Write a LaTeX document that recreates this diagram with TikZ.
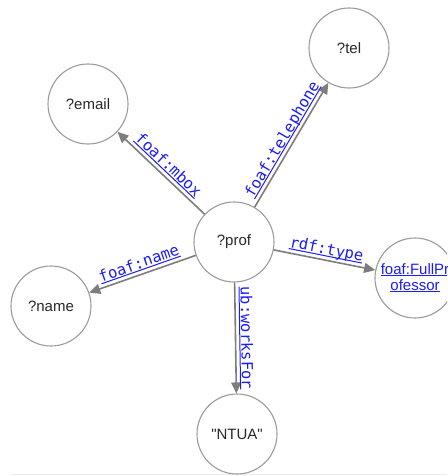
\documentclass[tikz,border=0pt]{standalone}
\usepackage{fontspec}
\setmainfont{Liberation Sans}[Ligatures=TeXOff]
\newfontfamily\monofont{DejaVu Sans Mono}
\usetikzlibrary{arrows.meta}
\definecolor{linkblue}{RGB}{28,28,245}
\definecolor{edgegray}{RGB}{125,125,125}
\definecolor{ringgray}{RGB}{155,155,155}
\definecolor{textdark}{RGB}{40,40,40}
\definecolor{rulegray}{RGB}{236,236,236}
% underlined link text
\newcommand\ulink[1]{\setbox0\hbox{#1}\rlap{\rule[-2pt]{\wd0}{1pt}}\box0}
\begin{document}
\begin{tikzpicture}[x=1pt,y=-1pt,
  var/.style={circle, draw=ringgray, line width=1.1pt, minimum size=80pt,
    inner sep=0pt, font=\fontsize{15}{16}\selectfont, text=textdark, fill=white},
  rel/.style={draw=edgegray, line width=1.6pt,
    -{Triangle[length=11pt,width=10pt]}},
  lbl/.style={midway, sloped, anchor=south, inner xsep=0pt, inner ysep=3pt,
    text depth=2pt, font=\monofont\fontsize{15.5}{17}\selectfont, text=linkblue}]
\useasboundingbox (0,0) rectangle (447,476);
\clip (0,0) rectangle (447,476);

\draw[rulegray, line width=1pt] (11,474.5) -- (447,474.5);

% variables and resources
\node[var] (prof)  at (234,242) {?prof};
\node[var] (email) at (88,104)  {?email};
\node[var] (tel)   at (349,48)  {?tel};
\node[var] (name)  at (51,306)  {?name};
\node[var] (ntua)  at (237,434) {"NTUA"};
\node[var, text=linkblue, align=center] (full) at (415,278)
  {\ulink{foaf:FullPr}\\\ulink{ofessor}};

% triple patterns
\draw[rel] (prof) -- node[lbl] {\ulink{foaf:mbox}} (email);
\draw[rel] (prof) -- node[lbl] {\ulink{foaf:telephone}} (tel);
\draw[rel] (prof) -- node[lbl] {\ulink{foaf:name}} (name);
\draw[rel] (prof) -- node[lbl] {\ulink{rdf:type}} (full);
\draw[rel] (prof) -- node[lbl] {\ulink{ub:worksFor}} (ntua);
\end{tikzpicture}
\end{document}
